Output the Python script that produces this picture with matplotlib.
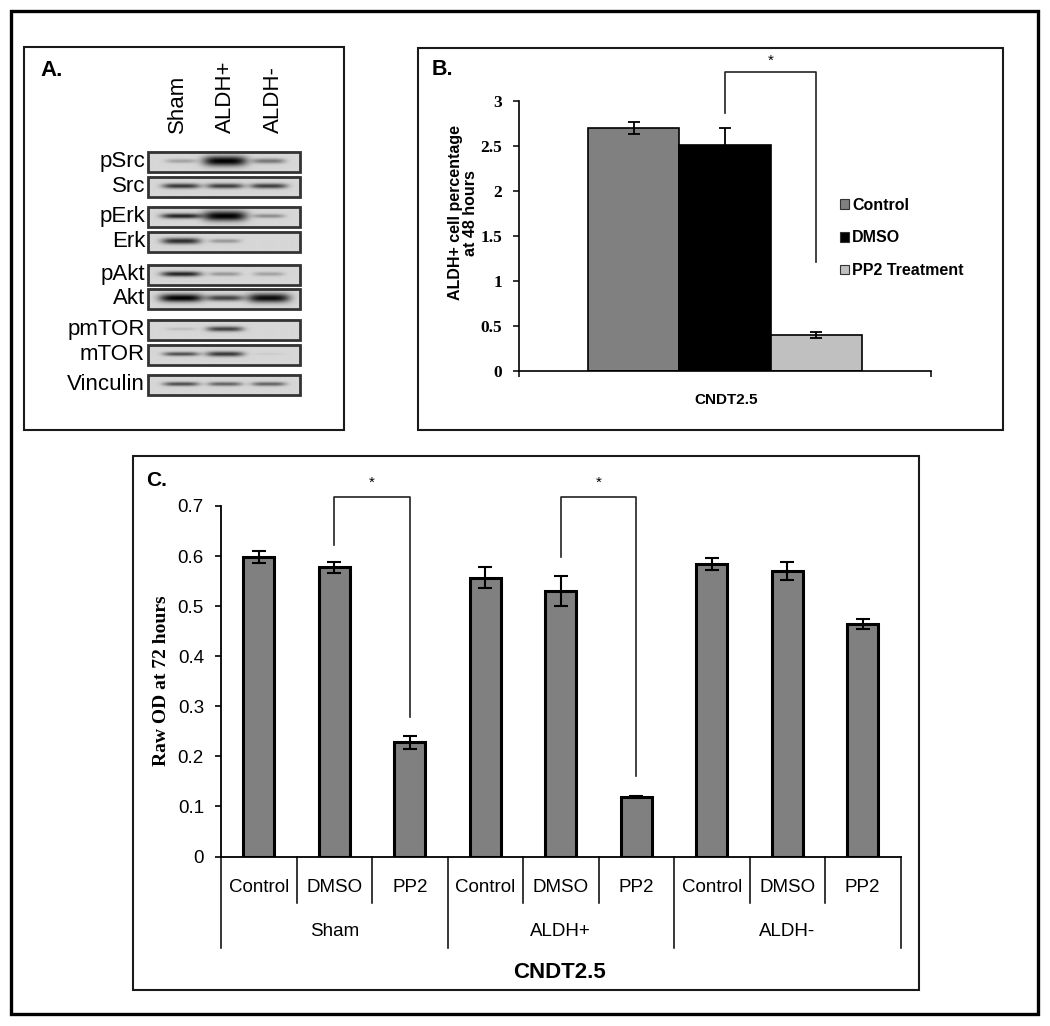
import numpy as np
import matplotlib
matplotlib.use('Agg')
import matplotlib.pyplot as plt
from matplotlib.patches import Rectangle, Patch
from matplotlib.transforms import blended_transform_factory

W, H = 1050, 1026
plt.rcParams['font.family'] = ['Liberation Sans', 'DejaVu Sans']

# ---------------- data ----------------
# Panel A: western blot (relative band intensities per lane)
blot_rows = ['pSrc', 'Src', 'pErk', 'Erk', 'pAkt', 'Akt', 'pmTOR', 'mTOR', 'Vinculin']
blot_lanes = ['Sham', 'ALDH+', 'ALDH-']
blot_intensity = [
    [0.25, 1.00, 0.45],
    [0.75, 0.72, 0.72],
    [0.85, 1.00, 0.35],
    [0.80, 0.30, 0.00],
    [0.85, 0.30, 0.25],
    [1.00, 0.70, 0.95],
    [0.12, 0.70, 0.00],
    [0.65, 0.75, 0.06],
    [0.65, 0.55, 0.55],
]
blot_thickness = [
    [2.0, 5.0, 2.5],
    [2.5, 2.5, 2.5],
    [2.5, 5.0, 2.0],
    [3.0, 2.0, 1.0],
    [2.5, 2.0, 2.0],
    [4.0, 3.0, 4.5],
    [1.5, 2.5, 1.0],
    [2.0, 2.5, 1.0],
    [2.0, 2.0, 2.0],
]

# Panel B
b_category = 'CNDT2.5'
b_series = ['Control', 'DMSO', 'PP2 Treatment']
b_values = [2.70, 2.51, 0.40]
b_err_low = [0.065, 0.19, 0.03]
b_err_high = [0.065, 0.19, 0.03]
b_colors = ['#808080', '#000000', '#c0c0c0']
b_yticks = [0, 0.5, 1, 1.5, 2, 2.5, 3]
b_yticklabels = ['0', '0.5', '1', '1.5', '2', '2.5', '3']
b_ylabel = 'ALDH+ cell percentage\nat 48 hours'
# bracket: (left series idx, right series idx, top, left bottom, right bottom)
b_bracket = (1, 2, 3.32, 2.87, 1.21)

# Panel C
c_conditions = ['Control', 'DMSO', 'PP2', 'Control', 'DMSO', 'PP2', 'Control', 'DMSO', 'PP2']
c_groups = ['Sham', 'ALDH+', 'ALDH-']
c_values = [0.599, 0.578, 0.228, 0.557, 0.530, 0.118, 0.585, 0.570, 0.465]
c_errors = [0.012, 0.011, 0.013, 0.021, 0.030, 0.002, 0.012, 0.018, 0.010]
c_yticks = [0, 0.1, 0.2, 0.3, 0.4, 0.5, 0.6, 0.7]
c_yticklabels = ['0', '0.1', '0.2', '0.3', '0.4', '0.5', '0.6', '0.7']
c_ylabel = 'Raw OD at 72 hours'
c_xlabel = 'CNDT2.5'
# brackets: (left idx, right idx, top, left bottom, right bottom)
c_brackets = [(1, 2, 0.718, 0.622, 0.279), (4, 5, 0.718, 0.598, 0.161)]

# ---------------- figure ----------------
fig = plt.figure(figsize=(W / 100, H / 100), dpi=100)


def rect(l, t, r, b):
    return [l / W, 1 - b / H, (r - l) / W, (b - t) / H]


ov = fig.add_axes([0, 0, 1, 1])
ov.set_xlim(0, W)
ov.set_ylim(H, 0)
ov.axis('off')

# borders
ov.add_patch(Rectangle((11, 11), 1027, 1003, fill=False, lw=2.4, ec='black'))
ov.add_patch(Rectangle((24, 47), 320, 383, fill=False, lw=1.5, ec='#1a1a1a'))
ov.add_patch(Rectangle((418, 48), 585, 382, fill=False, lw=1.5, ec='#1a1a1a'))
ov.add_patch(Rectangle((133, 456), 786, 534, fill=False, lw=1.5, ec='#1a1a1a'))

ov.text(40, 76, 'A.', fontsize=16, va='baseline', fontweight='bold')
ov.text(432, 75, 'B.', fontsize=15.5, va='baseline', fontweight='bold')
ov.text(146, 486, 'C.', fontsize=15, va='baseline', fontweight='bold')

# ---------------- Panel A ----------------
lane_label_x = [177, 225, 273]
lane_band_x = [181, 225, 269]
box_tops = [152, 177, 207, 232, 265, 289, 320, 345, 375]
box_h = 19.5
bx0, bx1 = 148, 300
for j, lane in enumerate(blot_lanes):
    ov.text(lane_label_x[j], 133, lane, rotation=90, ha='center', va='bottom', fontsize=16)
for i, row in enumerate(blot_rows):
    y0 = box_tops[i]
    y1 = y0 + box_h
    yc = (y0 + y1) / 2
    ov.text(145, yc, row, ha='right', va='center', fontsize=16)
    xs = np.linspace(bx0, bx1, 200)
    ys = np.linspace(y0, y1, 40)
    X, Y = np.meshgrid(xs, ys)
    img = np.full(X.shape, 0.84)
    for j in range(3):
        I = blot_intensity[i][j]
        th = blot_thickness[i][j]
        hw = 15 + 7 * I ** 2
        d = I * np.exp(-((X - lane_band_x[j]) / hw) ** 4) * np.exp(-((Y - yc) / th) ** 2)
        img -= 0.84 * d
    img = np.clip(img, 0, 1)
    ov.imshow(img, cmap='gray', vmin=0, vmax=1, extent=(bx0, bx1, y1, y0),
              aspect='auto', interpolation='bilinear', zorder=2)
    ov.add_patch(Rectangle((bx0, y0), bx1 - bx0, box_h, fill=False, lw=2.0, ec='#333333', zorder=3))
ov.set_xlim(0, W)
ov.set_ylim(H, 0)

# ---------------- Panel B ----------------
axb = fig.add_axes(rect(519, 101, 931, 371))
axb.patch.set_visible(False)
bw = 0.221
bx = np.array([-1, 0, 1]) * bw
axb.bar(bx, b_values, width=bw, color=b_colors, edgecolor='black', linewidth=1.2, zorder=2)
axb.errorbar(bx, b_values, yerr=[b_err_low, b_err_high], fmt='none', ecolor='black',
             elinewidth=1.3, capsize=4, capthick=1.3, zorder=3)
axb.set_xlim(-0.5, 0.5)
axb.set_ylim(0, 3)
axb.set_yticks(b_yticks)
axb.set_yticklabels(b_yticklabels, fontfamily='Liberation Serif', fontweight='bold', fontsize=12.5)
axb.set_xticks([-0.5, 0.5])
axb.set_xticklabels(['', ''])
axb.tick_params(axis='both', direction='out', length=4, width=1.1, pad=8)
for s in ['top', 'right']:
    axb.spines[s].set_visible(False)
for s in ['left', 'bottom']:
    axb.spines[s].set_linewidth(1.2)
l, r, top, lb, rb = b_bracket
axb.plot([bx[l], bx[l], bx[r], bx[r]], [lb, top, top, rb], color='#222222', lw=1.2, clip_on=False)
axb.text((bx[l] + bx[r]) / 2, 3.45, '*', ha='center', va='center', fontsize=11, clip_on=False)
ov.text(726, 400, b_category, ha='center', va='center', fontsize=11, fontweight='bold')
ov.text(463, 213, b_ylabel, rotation=90, ha='center', va='center', fontsize=11.5,
        fontweight='bold', multialignment='center', linespacing=0.95)
handles = [Patch(facecolor=c, edgecolor='#333333', linewidth=0.8) for c in b_colors]
fig.legend(handles, b_series, loc='center left', bbox_to_anchor=(840 / W, 1 - 238 / H),
           frameon=False, handlelength=0.55, handleheight=0.55, handletextpad=0.2,
           labelspacing=1.1, borderpad=0, borderaxespad=0,
           prop={'weight': 'bold', 'size': 11.5})

# ---------------- Panel C ----------------
axc = fig.add_axes(rect(221, 506, 900.5, 856.5))
axc.patch.set_visible(False)
cx = np.arange(len(c_values))
axc.bar(cx, c_values, width=0.41, color='#808080', edgecolor='black', linewidth=2.2, zorder=2)
axc.errorbar(cx, c_values, yerr=c_errors, fmt='none', ecolor='black', elinewidth=1.5,
             capsize=5, capthick=1.5, zorder=3)
axc.set_xlim(-0.5, len(c_values) - 0.5)
axc.set_ylim(0, 0.7)
axc.set_yticks(c_yticks)
axc.set_yticklabels(c_yticklabels, fontsize=13.5)
axc.set_xticks([])
axc.tick_params(axis='y', direction='out', length=4.3, width=1.2, pad=8)
for s in ['top', 'right']:
    axc.spines[s].set_visible(False)
for s in ['left', 'bottom']:
    axc.spines[s].set_linewidth(1.3)

trans = blended_transform_factory(axc.transData, ov.transData)
for i, cond in enumerate(c_conditions):
    axc.text(i, 887, cond, transform=trans, ha='center', va='center', fontsize=13.5, clip_on=False)
n_per = len(c_conditions) // len(c_groups)
for g, grp in enumerate(c_groups):
    axc.text(g * n_per + (n_per - 1) / 2, 932, grp, transform=trans, ha='center', va='center',
             fontsize=13.5, clip_on=False)
for k in range(len(c_conditions) + 1):
    b = k - 0.5
    yend = 948 if k % n_per == 0 else 903
    axc.plot([b, b], [856.5, yend], transform=trans, color='black', lw=1.1, clip_on=False)
for (l, r, top, lb, rb) in c_brackets:
    axc.plot([l, l, r, r], [lb, top, top, rb], color='#222222', lw=1.2, clip_on=False)
    axc.text((l + r) / 2, 0.746, '*', ha='center', va='center', fontsize=11, clip_on=False)
ov.text(560, 973, c_xlabel, ha='center', va='center', fontsize=16, fontweight='bold')
ov.text(162, 681, c_ylabel, rotation=90, ha='center', va='center', fontsize=14,
        fontfamily='Liberation Serif', fontweight='bold')

fig.savefig('out.png', dpi=100)
